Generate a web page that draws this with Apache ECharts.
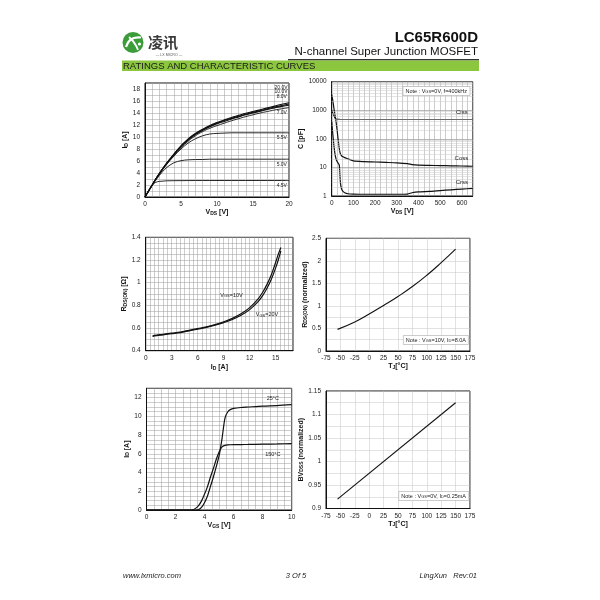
<!DOCTYPE html>
<html><head><meta charset="utf-8">
<script src="https://cdn.jsdelivr.net/npm/echarts@6/dist/echarts.min.js"></script>
<style>html,body{margin:0;padding:0;background:#fff}#c{width:600px;height:600px}</style>
</head><body><div id="c"></div>
<script>
// ---------- DATA ----------
// Chart 1: output characteristics
const vdsX = [0,0.5,1,1.5,2,2.5,3,4,5,6,7,8,9,10,11,12,13,14,15,16,17,18,19,20];
const id20V = [0,1.0,2.0,3.0,3.9,4.8,5.6,7.1,8.5,9.7,10.6,11.3,11.9,12.4,12.85,13.25,13.6,13.95,14.25,14.55,14.85,15.15,15.45,15.7];
const id10V = [0,1.0,2.0,3.0,3.9,4.8,5.6,7.1,8.5,9.6,10.5,11.2,11.8,12.3,12.75,13.1,13.45,13.8,14.1,14.4,14.7,15.0,15.25,15.5];
const id8V  = [0,1.0,2.0,3.0,3.9,4.8,5.6,7.0,8.4,9.5,10.4,11.1,11.7,12.2,12.6,13.0,13.35,13.7,14.0,14.3,14.6,14.85,15.1,15.3];
const id7V  = [0,1.0,2.0,3.0,3.9,4.7,5.5,6.9,8.2,9.3,10.2,10.9,11.45,11.9,12.3,12.7,13.05,13.4,13.7,14.0,14.25,14.5,14.7,14.9];
const id55V = [0,1.0,2.0,3.0,3.8,4.6,5.4,6.8,8.0,9.0,9.7,10.2,10.5,10.6,10.65,10.7,10.7,10.7,10.7,10.7,10.7,10.7,10.7,10.7];
const id5V  = [0,1.0,1.9,2.8,3.6,4.3,4.9,5.7,6.05,6.2,6.25,6.25,6.3,6.3,6.3,6.3,6.3,6.3,6.3,6.3,6.3,6.3,6.3,6.3];
const id45V = [0,1.1,2.0,2.45,2.6,2.65,2.7,2.72,2.73,2.74,2.75,2.75,2.75,2.75,2.75,2.75,2.75,2.75,2.75,2.75,2.75,2.75,2.75,2.75];
// Chart 2: capacitance
const vdsC = [0,5,10,15,20,25,30,35,40,45,50,60,75,100,150,200,250,300,350,370,400,450,500,550,600,650];
const ciss = [1000,800,650,540,490,480,478,477,476,475,475,475,475,475,475,475,475,475,475,475,475,475,475,475,475,475];
const coss = [3500,2200,1200,700,400,200,90,45,30,26,24,22,20,17,16,15.5,15,14.5,13.5,12.5,12,11.8,11.6,11.4,11.2,11];
const crss = [400,150,60,30,20,16,14,12,3,1.8,1.5,1.3,1.2,1.17,1.15,1.15,1.15,1.15,1.17,1.3,1.4,1.45,1.55,1.65,1.75,1.85];
const capMinor = [2,3,4,5,6,7,8,9,20,30,40,50,60,70,80,90,200,300,400,500,600,700,800,900,2000,3000,4000,5000,6000,7000,8000,9000];
// Chart 3: RDS(on) vs ID
const idX = [0.8,1,2,3,4,5,6,7,8,9,10,11,12,13,13.5,14,14.5,15,15.3,15.6];
const rds10V = [0.53,0.535,0.545,0.555,0.565,0.58,0.595,0.61,0.63,0.655,0.685,0.725,0.78,0.86,0.915,0.985,1.07,1.18,1.25,1.31];
const rds20V = [0.525,0.53,0.54,0.55,0.56,0.575,0.59,0.605,0.625,0.648,0.675,0.712,0.762,0.835,0.885,0.95,1.03,1.13,1.2,1.28];
// Chart 4: RDS(on) normalized vs TJ
const tjX = [-55,-25,0,25,50,75,100,125,150];
const rdsNorm = [0.48,0.645,0.82,1.01,1.21,1.43,1.68,1.96,2.26];
// Chart 5: transfer characteristics
const vgsX = [0,3.0,3.2,3.4,3.6,3.8,4.0,4.2,4.4,4.6,4.8,5.0,5.2,5.4,5.6,5.8,6.0,6.5,7,8,9,10];
const id25C  = [0,0,0,0,0.05,0.3,0.8,1.5,2.5,3.5,4.6,5.8,7.6,9.8,10.5,10.75,10.85,10.95,11.0,11.1,11.15,11.25];
const id150C = [0,0,0.03,0.2,0.5,1.0,1.7,2.5,3.5,4.4,5.4,6.2,6.75,6.9,6.95,6.97,6.98,6.99,7.0,7.03,7.06,7.1];
// Chart 6: BVDSS normalized vs TJ
const tjBV = [-55,150];
const bvNorm = [0.92,1.125];

// ---------- HELPERS ----------
const F = 'Liberation Sans, Arial, sans-serif';
const zip = (xs, ys) => xs.map((x,i)=>[x,ys[i]]);
const rich = {
  m:{fontSize:7, fontWeight:'bold', fontFamily:F, color:'#111'},
  s:{fontSize:5, fontWeight:'bold', fontFamily:F, color:'#111', verticalAlign:'bottom'}
};
const noteRich = {
  m:{fontSize:5.5, fontWeight:'normal', fontFamily:F, color:'#222'},
  s:{fontSize:4, fontWeight:'normal', fontFamily:F, color:'#222', verticalAlign:'bottom'}
};
const mult = (v, step) => { const r = v/step; return Math.abs(r-Math.round(r)) < 1e-6; };
const fmt = step => v => mult(v, step) ? String(parseFloat(v.toFixed(3))) : '';

function ax(gi, min, max, interval, step, name, gap, isY, gridColor, extra) {
  return Object.assign({
    type:'value', gridIndex:gi, min, max, interval,
    axisLine:{show:true, onZero:false, lineStyle:{color:'#111', width:1}},
    axisTick:{show:false},
    splitLine:{show:true, lineStyle:{color:gridColor, width:0.5}},
    axisLabel:{fontSize:6.5, color:'#222', fontFamily:F, margin:isY?5:4, formatter:fmt(step)},
    name, nameLocation:'middle', nameGap:gap, nameRotate:isY?90:0,
    nameTextStyle:{rich}
  }, extra||{});
}
const ln = (xi, yi, data, w, extra) => Object.assign({
  type:'line', xAxisIndex:xi, yAxisIndex:yi, data, showSymbol:false, symbol:'none',
  smooth:0.35, lineStyle:{color:'#111', width:w}, silent:true, z:3
}, extra||{});
const mp = (items, size) => ({
  symbol:'circle', symbolSize:0, silent:true,
  label:{show:true, position:'inside', fontSize:size||5.5, color:'#222', fontFamily:F, formatter:p=>p.name},
  data: items.map(it=>({name:it[0], coord:[it[1], it[2]]}))
});

const grids = [
  {left:145, top:83, width:144, height:114},
  {left:331.7, top:81.7, width:141, height:114.3},
  {left:145.7, top:237.3, width:147.3, height:113.4},
  {left:326, top:238.3, width:144, height:112.7},
  {left:146.5, top:388.3, width:145.2, height:121.7},
  {left:326, top:391, width:144, height:117.5}
].map(g=>Object.assign(g,{show:true, borderColor:'#111', borderWidth:1, backgroundColor:'transparent'}));

const G1 = '#9a9a9a', G2 = '#c4c4c4';
const xAxis = [
  ax(0, 0, 20, 1, 5, '{m|V}{s|DS}{m| [V]}', 11, false, G1),
  ax(1, 0, 650, 25, 100, '{m|V}{s|DS}{m| [V]}', 12, false, G1),
  ax(2, 0, 17, 0.5, 3, '{m|I}{s|D}{m| [A]}', 13, false, G1),
  ax(3, -75, 175, 25, 25, '{m|T}{s|J}{m|[°C]}', 10, false, G2),
  ax(4, 0, 10, 0.5, 2, '{m|V}{s|GS}{m| [V]}', 12, false, G1),
  ax(5, -75, 175, 25, 25, '{m|T}{s|J}{m|[°C]}', 12, false, G2)
];
const yAxis = [
  ax(0, 0, 19, 1, 2, '{m|I}{s|D}{m| [A]}', 12, true, G1),
  {type:'log', logBase:10, gridIndex:1, min:1, max:10000,
   axisLine:{show:true, onZero:false, lineStyle:{color:'#111', width:1}}, axisTick:{show:false},
   splitLine:{show:true, lineStyle:{color:'#8a8a8a', width:0.6}},
   axisLabel:{fontSize:6.5, color:'#222', fontFamily:F, margin:5, formatter:v=>String(Math.round(v))},
   name:'{m|C [pF]}', nameLocation:'middle', nameGap:16, nameRotate:90, nameTextStyle:{rich}},
  ax(2, 0.4, 1.4, 0.05, 0.2, '{m|R}{s|DS(ON)}{m| [Ω]}', 12, true, G1),
  ax(3, 0, 2.5, 0.25, 0.5, '{m|R}{s|DS(ON)}{m| (normalized)}', 11, true, G2),
  ax(4, 0, 13, 0.5, 2, '{m|I}{s|D}{m| [A]}', 12, true, G1),
  ax(5, 0.9, 1.15, 0.025, 0.05, '{m|BV}{s|DSS}{m| (normalized)}', 12, true, G2)
];

const series = [
  ln(0,0,zip(vdsX,id20V),1.1,{smooth:0.5, markPoint:mp([['20.0V',18.9,18.3],['10.0V',18.9,17.5],['8.0V',19.0,16.8],['7.0V',19.0,14.1],['5.5V',19.0,9.9],['5.0V',19.0,5.4],['4.5V',19.0,1.95]],5)}),
  ln(0,0,zip(vdsX,id10V),1.1,{smooth:0.5}),
  ln(0,0,zip(vdsX,id8V),1.1,{smooth:0.5}),
  ln(0,0,zip(vdsX,id7V),0.9,{smooth:0.5}),
  ln(0,0,zip(vdsX,id55V),0.9),
  ln(0,0,zip(vdsX,id5V),0.9),
  ln(0,0,zip(vdsX,id45V),0.9),
  // chart 2 minor grid lines
  {type:'line', xAxisIndex:1, yAxisIndex:1, data:[], silent:true, z:1,
   markLine:{silent:true, symbol:['none','none'], label:{show:false},
     lineStyle:{color:'#c8c8c8', width:0.5, type:'solid'},
     data: capMinor.map(v=>({yAxis:v}))}},
  ln(1,1,zip(vdsC,ciss),1.2,{smooth:0.2, markPoint:mp([['Ciss',600,870],['Coss',598,20],['Crss',600,3.0]],6)}),
  ln(1,1,zip(vdsC,coss),1.2,{smooth:0.2}),
  ln(1,1,zip(vdsC,crss),1.2,{smooth:0.2}),
  ln(2,2,zip(idX,rds10V),1.2,{markPoint:mp([['V_GS=10V',9.9,0.89]],5.5)}),
  ln(2,2,zip(idX,rds20V),1.2,{markPoint:mp([['V_GS=20V',14.0,0.72]],5.5)}),
  ln(3,3,zip(tjX,rdsNorm),1.1,{smooth:0.5}),
  ln(4,4,zip(vgsX,id25C),1.2,{smooth:0.25, markPoint:mp([['25°C',8.7,11.95]],5.5)}),
  ln(4,4,zip(vgsX,id150C),1.2,{smooth:0.25, markPoint:mp([['150°C',8.7,5.93]],5.5)}),
  ln(5,5,zip(tjBV,bvNorm),1.1,{smooth:false})
];
series[11].markPoint.label.formatter = '{m|V}{s|GS}{m|=10V}';
series[12].markPoint.label.formatter = '{m|V}{s|GS}{m|=20V}';
series[11].markPoint.label.rich = noteRich;
series[12].markPoint.label.rich = noteRich;

const note = (text, right, top) => ({
  text, right, top, padding:[2,3,2,3], backgroundColor:'#fff', borderColor:'#aaa', borderWidth:0.6,
  textStyle:{rich:noteRich, fontSize:5.5, fontWeight:'normal'}
});
const title = [
  note('{m|Note : V}{s|GS}{m|=0V, f=400kHz}', 130, 86),
  note('{m|Note : V}{s|GS}{m|=10V, I}{s|D}{m|=8.0A}', 131, 335),
  note('{m|Note : V}{s|GS}{m|=0V, I}{s|D}{m|=0.25mA}', 131, 491)
];

const graphic = [
  {type:'circle', shape:{cx:133, cy:42.5, r:10.5}, style:{fill:'#3c9c3a'}},
  {type:'bezierCurve', shape:{x1:126, y1:47, x2:141, y2:37.5, cpx1:129, cpy1:36}, style:{fill:'none', stroke:'#fff', lineWidth:2.2}},
  {type:'bezierCurve', shape:{x1:129, y1:37, x2:138, y2:50, cpx1:135, cpy1:42}, style:{fill:'none', stroke:'#fff', lineWidth:1.8}},
  {type:'circle', shape:{cx:139.5, cy:44, r:1.6}, style:{fill:'#fff'}},
  {type:'text', x:148, y:42, style:{text:'凌讯', fontSize:15, fontWeight:'bold', fontFamily:'Noto Sans CJK SC', fill:'#3a3a3a', verticalAlign:'middle'}},
  {type:'text', x:169, y:54.5, style:{text:'— LX MICRO —', fontSize:3.6, fontFamily:F, fill:'#555', align:'center', verticalAlign:'middle'}},
  {type:'text', x:478, y:37.5, style:{text:'LC65R600D', fontSize:15, fontWeight:'bold', fontFamily:F, fill:'#111', align:'right', verticalAlign:'middle'}},
  {type:'text', x:478, y:51.8, style:{text:'N-channel Super Junction MOSFET', fontSize:11.5, fontFamily:F, fill:'#111', align:'right', verticalAlign:'middle'}},
  {type:'rect', shape:{x:288, y:59, width:191, height:1.5}, style:{fill:'#333'}},
  {type:'rect', shape:{x:122, y:60.5, width:357, height:10.5}, style:{fill:'#8cc63f'}},
  {type:'text', x:123, y:66, style:{text:'RATINGS AND CHARACTERISTIC CURVES', fontSize:9.5, fontFamily:F, fill:'#1a1a1a', verticalAlign:'middle'}},
  {type:'text', x:123, y:575.5, style:{text:'www.lxmicro.com', fontSize:7.5, fontStyle:'italic', fontFamily:F, fill:'#222', verticalAlign:'middle'}},
  {type:'text', x:296, y:575.5, style:{text:'3 Of 5', fontSize:7.5, fontStyle:'italic', fontFamily:F, fill:'#222', align:'center', verticalAlign:'middle'}},
  {type:'text', x:477, y:575.5, style:{text:'LingXun   Rev:01', fontSize:7.5, fontStyle:'italic', fontFamily:F, fill:'#222', align:'right', verticalAlign:'middle'}}
];

const chart = echarts.init(document.getElementById('c'), null, {renderer:'canvas'});
chart.setOption({
  backgroundColor:'#fff', animation:false,
  grid:grids, xAxis, yAxis, series, title, graphic
});
</script></body></html>
